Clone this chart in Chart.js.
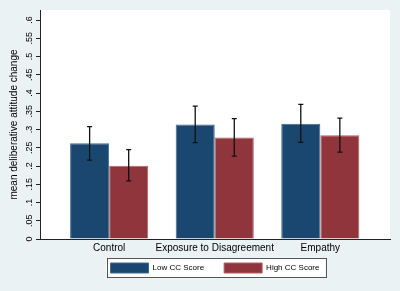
<!DOCTYPE html>
<html>
<head>
<meta charset="utf-8">
<script src="https://cdn.jsdelivr.net/npm/chart.js@4.4.1/dist/chart.umd.min.js"></script>
<style>
  html, body { margin: 0; padding: 0; background: #EAF2F3; }
  #wrap { width: 400px; height: 291px; position: relative; }
</style>
</head>
<body>
<div id="wrap"><canvas id="chart"></canvas></div>
<script>
const categories = ['Control', 'Exposure to Disagreement', 'Empathy'];
const lowMean = [0.262, 0.314, 0.316];
const lowLo   = [0.216, 0.264, 0.265];
const lowHi   = [0.308, 0.364, 0.369];
const highMean = [0.201, 0.278, 0.284];
const highLo   = [0.159, 0.227, 0.238];
const highHi   = [0.245, 0.330, 0.331];
const yTicks = [0, .05, .1, .15, .2, .25, .3, .35, .4, .45, .5, .55, .6];

const FONT = 'Liberation Sans, Arial, sans-serif';
const ciBounds = [[lowLo, lowHi], [highLo, highHi]];

// white plot region + legend frame
const backdrop = {
    id: 'backdrop',
    afterLayout(chart) {
        // x axis box is kept thin so the legend sits high; let its labels spill below
        const x = chart.scales.x;
        x.bottom = x.top + 16;
    },
    beforeDraw(chart) {
        const ctx = chart.ctx, a = chart.chartArea;
        ctx.save();
        ctx.fillStyle = '#ffffff';
        ctx.fillRect(a.left, a.top, a.right - a.left, a.bottom - a.top);
        const boxes = chart.legend.legendHitBoxes;
        if (boxes && boxes.length) {
            const l = Math.min(...boxes.map(b => b.left)) - 4;
            const r = Math.max(...boxes.map(b => b.left + b.width)) + 6;
            const t = Math.min(...boxes.map(b => b.top)) - 5;
            const btm = Math.max(...boxes.map(b => b.top + b.height)) + 4;
            ctx.fillRect(l, t, r - l, btm - t);
            ctx.strokeStyle = '#555555';
            ctx.lineWidth = 1;
            ctx.strokeRect(Math.round(l) + 0.5, Math.round(t) + 0.5, Math.round(r - l), Math.round(btm - t));
        }
        ctx.restore();
    }
};

// confidence interval whiskers
const whiskers = {
    id: 'whiskers',
    afterDatasetsDraw(chart) {
        const ctx = chart.ctx, y = chart.scales.y;
        ctx.save();
        ctx.strokeStyle = '#111111';
        ctx.lineWidth = 1.3;
        ciBounds.forEach((b, di) => {
            const meta = chart.getDatasetMeta(di);
            meta.data.forEach((bar, i) => {
                const x = bar.x;
                const y1 = y.getPixelForValue(b[0][i]);
                const y2 = y.getPixelForValue(b[1][i]);
                ctx.beginPath();
                ctx.moveTo(x, y1); ctx.lineTo(x, y2);
                ctx.moveTo(x - 2.5, y1); ctx.lineTo(x + 2.5, y1);
                ctx.moveTo(x - 2.5, y2); ctx.lineTo(x + 2.5, y2);
                ctx.stroke();
            });
        });
        ctx.restore();
    }
};

const toPoints = vals => vals.map((v, i) => ({ x: i + 1, y: v }));

new Chart(document.getElementById('chart'), {
    type: 'bar',
    data: {
        datasets: [{
            label: 'Low CC Score',
            data: toPoints(lowMean),
            backgroundColor: '#1A476F',
            borderColor: '#3E6A91',
            borderWidth: 1
        }, {
            label: 'High CC Score',
            data: toPoints(highMean),
            backgroundColor: '#90353B',
            borderColor: '#B06068',
            borderWidth: 1
        }]
    },
    options: {
        responsive: true,
        maintainAspectRatio: false,
        animation: false,
        categoryPercentage: 0.74,
        barPercentage: 1,
        layout: { padding: { top: 10, right: 10, left: 0, bottom: 8 } },
        plugins: {
            tooltip: { enabled: false },
            legend: {
                position: 'bottom',
                fullSize: false,
                labels: {
                    boxWidth: 38,
                    boxHeight: 10,
                    padding: 20,
                    color: '#000',
                    font: { family: FONT, size: 8 }
                }
            }
        },
        scales: {
            x: {
                type: 'linear',
                offset: false,
                min: 0.345,
                max: 3.66,
                afterBuildTicks: s => { s.ticks = categories.map((c, i) => ({ value: i + 1 })); },
                afterFit: s => { s.height = 4; },
                grid: { display: false, drawTicks: false, offset: false },
                border: { display: true, color: '#222', width: 1 },
                ticks: {
                    autoSkip: false,
                    maxRotation: 0,
                    padding: 3,
                    color: '#000',
                    font: { family: FONT, size: 10 },
                    callback: v => categories[v - 1]
                }
            },
            y: {
                min: 0,
                max: 0.6274,
                afterBuildTicks: s => { s.ticks = yTicks.map(v => ({ value: v })); },
                afterCalculateLabelRotation: s => { s.labelRotation = 90; },
                afterFit: s => { s.width = 40; },
                grid: { drawOnChartArea: false, drawTicks: true, tickLength: 4, color: '#222' },
                border: { display: true, color: '#222', width: 1 },
                title: {
                    display: true,
                    text: 'mean deliberative attitude change',
                    color: '#000',
                    font: { family: FONT, size: 10 },
                    padding: { top: 8, bottom: 0 }
                },
                ticks: {
                    minRotation: 90,
                    maxRotation: 90,
                    crossAlign: 'center',
                    padding: 0.5,
                    color: '#000',
                    font: { family: FONT, size: 9 },
                    callback: v => (v === 0 ? '0' : String(+v.toFixed(2)).replace(/^0/, ''))
                }
            }
        }
    },
    plugins: [backdrop, whiskers]
});
</script>
</body>
</html>
